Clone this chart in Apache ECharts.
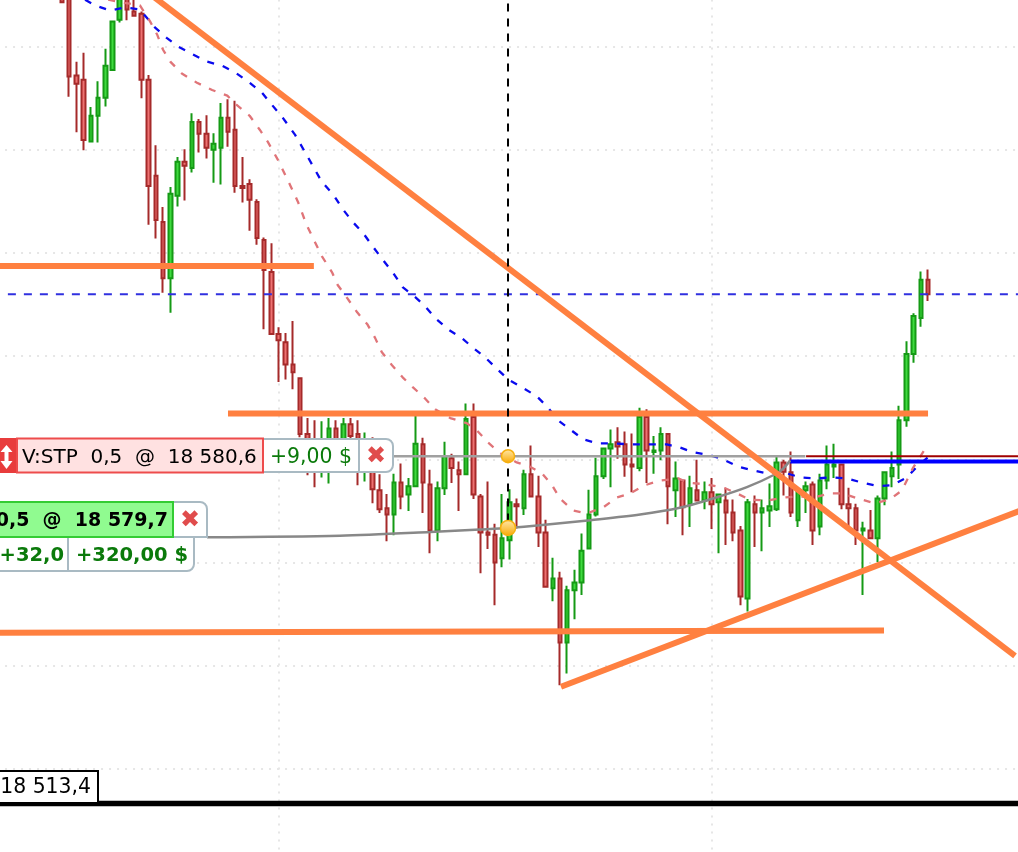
<!DOCTYPE html>
<html>
<head>
<meta charset="utf-8">
<style>html,body{margin:0;padding:0;background:#fff;overflow:hidden}#c{width:1018px;height:852px}</style>
<script src="https://cdn.jsdelivr.net/npm/echarts@6/dist/echarts.min.js"></script>
</head>
<body>
<div id="c"></div>
<script>
const opens = [18671.1,18674.9,18654.4,18653.6,18641.6,18646.6,18650.1,18655.5,18665.2,18670.7,18666.8,18666.4,18653.6,18635.0,18626.0,18615.1,18631.1,18637.7,18636.5,18645.4,18643.1,18640.0,18640.4,18646.2,18643.9,18633.0,18633.4,18629.9,18622.5,18616.3,18604.3,18602.7,18598.4,18595.7,18584.9,18583.7,18577.9,18578.8,18586.0,18580.8,18586.8,18584.9,18577.9,18582.7,18574.0,18570.5,18569.3,18575.5,18573.2,18574.8,18582.9,18575.1,18566.2,18574.4,18580.2,18577.9,18577.1,18588.2,18572.8,18565.8,18565.4,18560.8,18564.3,18571.3,18570.5,18577.1,18572.8,18565.8,18555.0,18556.9,18544.5,18554.6,18556.1,18562.7,18569.3,18576.7,18582.1,18583.3,18582.9,18579.0,18578.3,18588.2,18581.4,18581.7,18584.9,18574.0,18575.9,18571.3,18574.0,18572.0,18573.6,18571.7,18572.0,18569.7,18566.2,18553.0,18571.3,18569.7,18570.1,18570.3,18579.4,18577.5,18568.2,18574.0,18575.1,18567.0,18575.9,18578.6,18579.0,18571.3,18570.5,18566.2,18566.2,18564.7,18572.4,18576.7,18579.0,18587.6,18600.4,18607.4,18614.8];
const closes = [18668.6,18654.2,18652.8,18641.9,18646.6,18650.1,18656.3,18664.9,18671.1,18667.2,18666.0,18653.6,18633.0,18626.4,18615.1,18631.5,18637.7,18636.9,18645.4,18643.1,18640.4,18641.2,18646.2,18643.5,18633.0,18632.6,18630.3,18622.9,18616.7,18604.3,18603.1,18598.4,18596.9,18584.9,18577.9,18577.9,18582.7,18586.0,18579.4,18586.8,18584.5,18578.8,18583.7,18574.2,18570.3,18569.3,18575.5,18572.8,18574.8,18583.0,18575.5,18566.2,18574.4,18580.6,18578.3,18577.1,18587.8,18573.2,18565.8,18565.4,18560.0,18564.7,18571.7,18570.9,18577.1,18572.8,18565.8,18555.3,18556.9,18544.5,18554.6,18556.1,18562.3,18569.3,18576.7,18582.1,18582.9,18582.5,18579.0,18578.6,18588.2,18581.7,18581.7,18584.9,18574.8,18576.3,18570.7,18574.4,18572.0,18573.6,18571.3,18573.2,18569.7,18565.8,18553.4,18571.7,18569.7,18570.5,18570.9,18579.4,18577.6,18569.7,18574.0,18574.8,18566.2,18575.9,18579.0,18579.0,18571.3,18570.5,18566.2,18566.6,18564.7,18572.4,18577.5,18578.3,18587.6,18600.4,18607.8,18614.8,18612.0];
const lows = [18668.6,18650.3,18643.4,18639.9,18641.6,18641.4,18648.4,18655.5,18664.7,18665.1,18666.0,18650.0,18625.5,18622.8,18612.3,18608.4,18629.0,18630.2,18635.6,18639.5,18638.3,18633.6,18633.3,18640.6,18631.7,18629.8,18624.3,18621.6,18605.2,18604.3,18595.0,18595.5,18593.6,18584.3,18576.9,18574.6,18576.5,18575.3,18577.9,18577.9,18583.7,18575.0,18575.7,18571.5,18569.6,18564.1,18565.3,18570.3,18570.0,18574.8,18569.6,18561.8,18564.1,18573.1,18575.4,18570.0,18577.1,18572.3,18557.9,18562.6,18551.7,18559.1,18560.6,18566.6,18569.2,18572.7,18563.0,18555.3,18552.5,18536.2,18538.5,18549.0,18553.7,18562.7,18568.9,18576.2,18574.6,18580.1,18576.6,18573.6,18577.7,18575.4,18577.2,18579.8,18567.4,18568.8,18565.3,18566.9,18572.0,18570.3,18566.5,18561.8,18563.4,18564.1,18551.7,18550.5,18563.0,18562.2,18566.9,18570.0,18573.0,18568.8,18566.9,18569.6,18563.4,18565.3,18574.2,18576.4,18570.3,18567.1,18563.4,18553.7,18564.7,18560.1,18571.1,18574.6,18576.2,18586.3,18598.7,18605.7,18610.7];
const highs = [18672.0,18676.9,18657.1,18658.8,18648.3,18653.3,18659.6,18664.9,18673.0,18672.0,18670.1,18666.8,18654.5,18640.9,18628.9,18632.8,18638.6,18640.1,18647.1,18646.0,18646.7,18643.2,18649.1,18649.8,18649.5,18638.6,18634.3,18630.4,18623.0,18621.9,18605.6,18604.5,18606.8,18595.7,18588.0,18587.6,18587.4,18588.0,18587.6,18588.0,18588.0,18587.6,18585.2,18584.3,18577.1,18573.3,18577.2,18579.2,18576.4,18588.5,18584.2,18578.0,18575.7,18583.4,18581.1,18579.6,18590.8,18590.8,18573.3,18575.7,18567.5,18573.3,18574.2,18572.4,18578.0,18582.7,18576.8,18568.3,18560.9,18558.2,18555.5,18558.6,18565.6,18574.1,18580.3,18582.1,18585.8,18586.2,18585.4,18585.0,18590.0,18589.7,18584.5,18586.2,18584.9,18579.6,18575.9,18576.8,18579.9,18575.7,18576.4,18573.2,18574.4,18572.2,18567.1,18572.3,18573.0,18572.2,18575.3,18580.7,18579.9,18581.5,18574.6,18575.7,18575.7,18577.2,18582.7,18583.0,18579.0,18574.5,18571.4,18567.9,18570.2,18573.0,18577.5,18581.5,18590.4,18602.9,18608.3,18616.4,18616.8];

const blueBars = [3.2,4.6,6.7,8.7,10.8,12.9,14.5,16.1,18.0,20.1,22.2,24.2,26.0,27.7,29.1,30.6,32.3,33.9,36.0,37.6,38.9,40.3,41.7,43.1,44.5,45.9,47.2,48.9,50.3,51.7,53.5,55.4,56.9,58.6,60.3,61.8,63.7,65.8,67.3,68.7,70.4,72.2,74.1,76.3,78.7,81.1,83.8,85.6,87.4,89.8,91.6,93.7,95.6,97.7,99.9,102.3,104.6,106.7,108.8,110.8,113.1,115.0,117.1,118.6,120.0];
const blueMA = [18669.1,18668.0,18667.0,18667.6,18667.2,18663.7,18661.7,18660.0,18658.6,18657.1,18656.3,18654.8,18653.0,18651.1,18648.7,18646.2,18642.9,18639.0,18633.8,18631.3,18628.5,18626.0,18623.9,18621.2,18618.6,18616.1,18613.4,18611.5,18609.7,18607.4,18605.2,18603.5,18601.7,18599.8,18597.5,18595.5,18594.0,18592.2,18590.1,18587.6,18585.8,18583.9,18583.1,18583.1,18582.9,18582.9,18582.9,18582.3,18581.4,18580.8,18580.0,18578.6,18577.9,18577.3,18577.5,18576.5,18576.3,18576.5,18576.3,18575.5,18574.8,18575.0,18576.5,18578.8,18580.4];
const pinkBars = [6.4,8.7,10.8,12.2,13.2,14.0,15.0,16.6,18.7,20.8,22.9,24.2,26.0,27.4,28.5,29.9,31.6,32.7,33.9,36.0,37.4,38.2,39.5,40.9,42.3,43.4,44.3,45.7,47.2,48.6,50.3,51.7,53.8,56.1,57.5,59.0,60.7,63.0,64.8,66.5,67.9,69.0,70.8,72.7,75.0,76.9,78.7,80.8,82.9,85.4,86.7,89.5,91.9,93.5,95.3,97.7,99.9,102.0,104.1,106.4,108.2,110.3,112.6,114.7,116.4,117.9,119.9];
const pinkMA = [18669.1,18668.5,18668.0,18664.9,18662.3,18659.4,18657.1,18654.8,18653.0,18651.6,18650.5,18648.7,18646.6,18643.9,18641.6,18638.1,18633.2,18629.9,18625.4,18619.4,18616.3,18613.8,18611.3,18608.5,18606.2,18603.5,18600.8,18598.3,18595.9,18594.0,18591.8,18589.7,18588.0,18587.0,18585.6,18583.3,18581.2,18579.4,18578.6,18577.3,18575.0,18572.4,18570.1,18569.5,18570.7,18572.6,18573.4,18575.0,18575.9,18576.3,18575.5,18575.1,18574.4,18573.4,18572.2,18572.0,18572.6,18572.8,18572.6,18573.4,18573.4,18572.4,18571.5,18572.2,18574.0,18578.3,18582.7];
const curveBars = [20.1,38.5,51.0,57.9,61.8,66.2,73.2,80.1,85.6,90.2,94.9,99.1,100.0,100.9];
const curvePrices = [18564.9,18565.2,18565.9,18566.4,18566.7,18567.2,18568.2,18569.3,18570.6,18572.4,18574.6,18577.3,18578.3,18579.8];

const trendFall = [[12.3,18670.1],[132.05,18541.9]];
const trendRise = [[69.14,18535.9],[132.7,18570.0]];
const levelA = [[-9,18617.5],[34.9,18617.5]];
const levelB = [[23,18588.9],[120,18588.9]];
const levelC = [[-9,18546.4],[113.9,18546.8]];

const stopPrice = 18580.6;
const entryPrice = 18579.6;
const lastPrice = 18612.0;
const crossPrice = 18513.3;
const crossBar = 61.8;
const axisMin = 18500, axisMax = 18680, priceStep = 20;
const leadBars = 9, tailBars = 13;

const stopText = 'V:STP  0,5  @  18 580,6', stopPnl = '+9,00 $';
const entryText = '0,5  @  18 579,7', entryPoints = '+32,0', entryPnl = '+320,00 $';
const crossText = '18 513,4';

const barLabels = [];
for (let i = -leadBars; i < opens.length + tailBars; i++) barLabels.push('B' + i);
const blank = ['-','-','-','-'];
const candleData = [];
for (let i = 0; i < leadBars; i++) candleData.push(blank);
opens.forEach((o, i) => candleData.push([o, closes[i], lows[i], highs[i]]));
for (let i = 0; i < tailBars; i++) candleData.push(blank);

const zip = (xs, ys) => xs.map((x, i) => [x, ys[i]]);
const rightEdge = 132.7;
const ORANGE = '#ff8040';
const overlay = (name, data, width, color, extra, z) => Object.assign({
  name, type: 'line', xAxisIndex: 1, yAxisIndex: 0, data, showSymbol: false, symbol: 'none',
  lineStyle: Object.assign({ width, color }, extra || {}), z: z || 5, silent: true, animation: false
}, {});

const UI = '"DejaVu Sans"';
const BORDER = '#a9bac3', PNL = '#0b7a0b';
const box = (x, y, width, height, r, fill, stroke, lw) => ({ type: 'rect', z: 100, silent: true,
  shape: { x, y, width, height, r }, style: { fill, stroke, lineWidth: lw === undefined ? 2 : lw } });
const vline = (x, y1, y2) => ({ type: 'line', z: 100, silent: true,
  shape: { x1: x, y1, x2: x, y2 }, style: { stroke: BORDER, lineWidth: 2 } });
const label = (text, x, y, font, fill, align) => ({ type: 'text', z: 101, silent: true, x, y,
  style: { text, font, fill, textAlign: align || 'left', textVerticalAlign: 'middle' } });

const graphics = [
  box(0, 438, 17, 35, 0, '#e83c3c', '#e83c3c', 0),
  { type: 'polygon', z: 101, silent: true,
    shape: { points: [[6.5,445],[12.5,452],[8.5,452],[8.5,461],[12.5,461],[6.5,469],[0.5,461],[4.5,461],[4.5,452],[0.5,452]] },
    style: { fill: '#ffffff' } },
  box(263, 439, 130, 33, [0,7,7,0], '#ffffff', BORDER),
  vline(359, 439, 472),
  box(17, 438.5, 246, 34, 0, '#ffe1e1', '#ee4c4c'),
  label(stopText, 22, 457.5, '20px ' + UI, '#000000'),
  label(stopPnl, 270, 457.5, '20.4px ' + UI, PNL),
  label('\u2716', 376, 457, '24px ' + UI, '#e04c4c', 'center'),

  box(-6, 537, 200, 34, [0,0,7,0], '#ffffff', BORDER),
  vline(68, 537, 571),
  box(172, 502, 35, 35, [0,7,0,0], '#ffffff', BORDER),
  box(-6, 502, 179, 35, 0, '#90fb90', '#33cc33'),
  label(entryText, 168, 521, 'bold 19px ' + UI, '#000000', 'right'),
  label('\u2716', 190, 521, '24px ' + UI, '#e04c4c', 'center'),
  label(entryPoints, 64, 555.5, 'bold 19.5px ' + UI, PNL, 'right'),
  label(entryPnl, 76, 555.5, 'bold 19.5px ' + UI, PNL),

  box(-6, 771, 104, 32, 0, '#ffffff', '#000000'),
  label(crossText, 91, 788, '20.4px ' + UI, '#000000', 'right')
];

const chart = echarts.init(document.getElementById('c'), null, { renderer: 'canvas', width: 1018, height: 852 });
const gridLine = { show: true, lineStyle: { color: '#e6e6e6', width: 2, type: [2, 6] } };
chart.setOption({
  animation: false,
  backgroundColor: '#ffffff',
  grid: { left: -2.95, top: -56.5, width: 142 * 7.217, height: 928.5, outerBoundsMode: 'none', containLabel: false, show: false },
  xAxis: [
    { type: 'category', data: barLabels, boundaryGap: false,
      axisLine: { show: false }, axisTick: { show: false }, axisLabel: { show: false },
      splitLine: Object.assign({}, gridLine, { interval: (i) => (i - leadBars + 30) % 60 === 0 && i - leadBars >= 0 }) },
    { type: 'value', min: -leadBars, max: opens.length + tailBars - 1, show: false, splitLine: { show: false } }
  ],
  yAxis: [{ type: 'value', min: axisMin, max: axisMax, interval: priceStep, position: 'left',
    axisLine: { show: false }, axisTick: { show: false }, axisLabel: { show: false }, splitLine: gridLine }],
  series: [
    { name: 'Price', type: 'candlestick', xAxisIndex: 0, yAxisIndex: 0, data: candleData, barWidth: 4, z: 2, silent: true,
      itemStyle: { color: '#3fdb3f', color0: '#ee7272', borderColor: '#159a15', borderColor0: '#a52a2a', borderWidth: 2 } },
    overlay('MA slow', zip(blueBars, blueMA), 2.3, '#0a0aee', { type: [7, 9] }, 3),
    overlay('MA fast', zip(pinkBars, pinkMA), 2.3, '#e07478', { type: [7, 9] }, 3),
    overlay('Last', [[-7.5, lastPrice], [rightEdge, lastPrice]], 2, '#3030e0', { type: [8, 8] }, 4),
    overlay('Stop link', [[45.9, stopPrice], [103.0, stopPrice]], 2.5, '#a0a0a0', null, 4),
    overlay('Stop', [[103.1, stopPrice], [rightEdge, stopPrice]], 2, '#a00000', null, 4),
    overlay('Entry', [[100.9, entryPrice], [rightEdge, entryPrice]], 4, '#0000ff', null, 4),
    Object.assign(overlay('Entry link', zip(curveBars, curvePrices), 2.5, '#888888', null, 4), { smooth: 0.3 }),
    overlay('Level A', levelA, 6, ORANGE, null, 6),
    overlay('Level B', levelB, 6, ORANGE, null, 6),
    overlay('Level C', levelC, 6, ORANGE, null, 6),
    overlay('Trend fall', trendFall, 6, ORANGE, null, 6),
    overlay('Trend rise', trendRise, 6, ORANGE, null, 6),
    overlay('Crosshair', [[crossBar, axisMax], [crossBar, curvePrices[4]]], 2, '#000000', { type: [8, 7] }, 7),
    overlay('Cross price', [[-leadBars, crossPrice], [rightEdge, crossPrice]], 5.5, '#000000', null, 7),
    { name: 'Orders', type: 'scatter', xAxisIndex: 1, yAxisIndex: 0, z: 8, silent: true,
      data: [{ value: [crossBar, stopPrice], symbolSize: 13 }, { value: [crossBar, curvePrices[4]], symbolSize: 15 }],
      itemStyle: { borderColor: '#f6b010', borderWidth: 1.5, opacity: 1,
        color: { type: 'linear', x: 0, y: 0, x2: 0, y2: 1, colorStops: [{ offset: 0, color: '#ffe9ae' }, { offset: 1, color: '#f8a800' }] } } }
  ],
  graphic: { elements: graphics }
});
</script>
</body>
</html>
